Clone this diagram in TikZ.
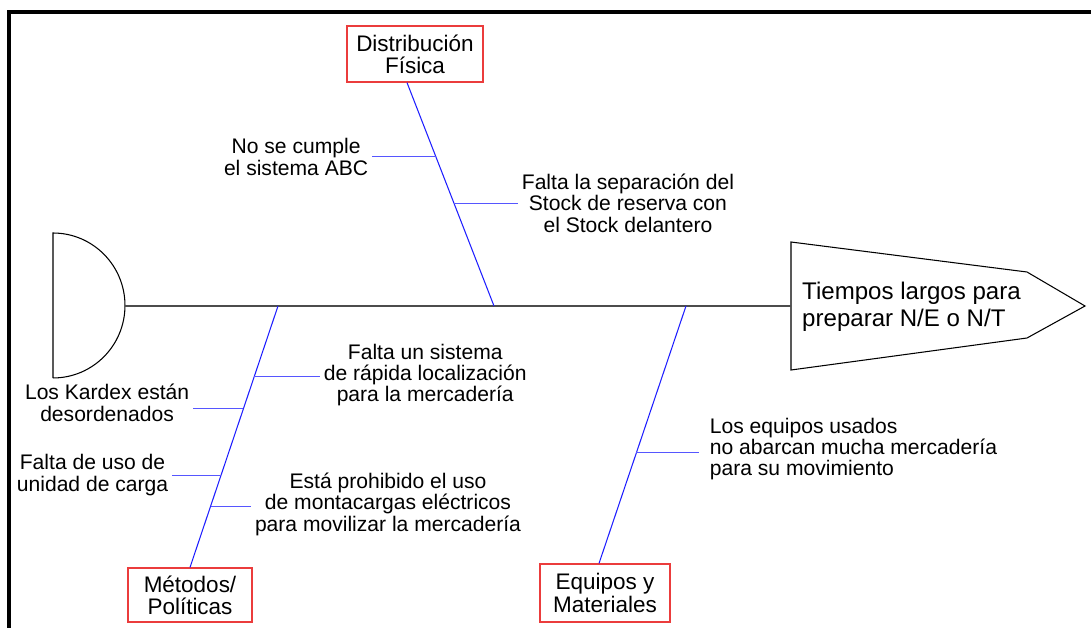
\documentclass[tikz,border=0pt]{standalone}
\usepackage{fontspec}
\setmainfont{Liberation Sans}
\usetikzlibrary{positioning}
\definecolor{rojo}{RGB}{235,60,60}
\definecolor{azul}{RGB}{30,30,255}

\begin{document}
\begin{tikzpicture}[x=0.02cm,y=-0.02cm,
  causa/.style={draw=rojo,line width=0.7pt,align=center,font=\fontsize{12.8}{12.6}\selectfont},
  nota/.style={align=center,inner sep=2pt,font=\fontsize{12}{12.2}\selectfont},
  espina/.style={azul,line width=0.6pt},
  ramita/.style={azul!75,line width=0.6pt}]
\useasboundingbox (0,0) rectangle (1091,628);
\draw[line width=2.3pt] (9,628) -- (9,12) -- (1091,12);

\draw[line width=0.6pt] (53,378) -- (53,233) arc[start angle=90,end angle=-90,x radius=1.44cm,y radius=1.45cm];
\draw[line width=0.6pt] (791,242) -- (1027,272) -- (1085,306) -- (1027,338) -- (791,370) -- cycle;
\coordinate (cola) at (125,306); \coordinate (cabeza) at (791,306);
\draw[black!70,line width=0.7pt] (cola) -- (cabeza);
\node[anchor=west,align=left,font=\fontsize{13.7}{15.1}\selectfont] (efecto) at (796,307) {Tiempos largos para\\preparar N/E o N/T};

\node[causa,minimum width=2.72cm,minimum height=1.12cm] (dist) at (415,54) {Distribución\\Física};
\node[causa,minimum width=2.48cm,minimum height=1.08cm] (met) at (190,595) {Métodos/\\Políticas};
\node[causa,minimum width=2.6cm,minimum height=1.16cm] (equ) at (605,593) {Equipos y\\Materiales};
\coordinate (j1) at (494,306); \coordinate (j2) at (278,306); \coordinate (j3) at (686,306);

\draw[espina] ([xshift=-0.16cm]dist.south) -- (j1) coordinate[pos=.33] (b1) coordinate[pos=.54] (b2);
\draw[espina] (met.north) -- (j2) coordinate[pos=.729] (b3) coordinate[pos=.607] (b4) coordinate[pos=.351] (b5) coordinate[pos=.233] (b6);
\draw[espina] ([xshift=-0.12cm]equ.north) -- (j3) coordinate[pos=.43] (b7);

\node[nota,anchor=east] (n1) at (372,157) {No se cumple\\el sistema ABC};
\node[nota,anchor=west] (n2) at (518,203) {Falta la separación del\\Stock de reserva con\\el Stock delantero};
\node[nota,anchor=west] (n3) at (320,375) {Falta un sistema\\de rápida localización\\para la mercadería};
\node[nota,anchor=east] (n4) at (193,403) {Los Kardex están\\desordenados};
\node[nota,anchor=east] (n5) at (172,475) {Falta de uso de\\unidad de carga};
\node[nota] (n6) at (388,504) {Está prohibido el uso\\de montacargas eléctricos\\para movilizar la mercadería};
\node[nota,anchor=west,align=left,inner xsep=6pt] (n7) at (699,449) {Los equipos usados\\no abarcan mucha mercadería\\para su movimiento};

\draw[ramita] (b1) -- (b1 -| n1.east);
\draw[ramita] (b2) -- (b2 -| n2.west);
\draw[ramita] (b3) -- (b3 -| n3.west);
\draw[ramita] (b4) -- (b4 -| n4.east);
\draw[ramita] (b5) -- (b5 -| n5.east);
\draw[ramita] (b6) -- (b6 -| n6.west);
\draw[ramita] (b7) -- (b7 -| n7.west);
\end{tikzpicture}
\end{document}
